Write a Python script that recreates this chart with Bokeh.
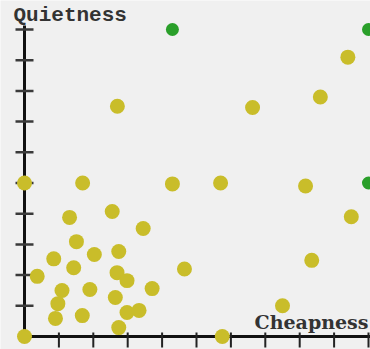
from bokeh.plotting import figure
from bokeh.models import Range1d, Label
from bokeh.embed import file_html
from bokeh.resources import INLINE

# ---- data ----
yellow_x = [0, 1.69, 2.7, 4.3, 5.7, 6.63, 8.6, 9.4, 8.17, 9.5, 8.35, 7.5, 5.75, 0, 4.65,
            1.31, 2.55, 3.45, 1.51, 0.85, 2.03, 2.74, 1.43, 0.37, 2.69, 2.98, 1.09, 1.9,
            3.71, 0.97, 2.64, 0.9, 1.68, 2.98, 3.33, 2.74]
yellow_y = [5.0, 5.0, 7.5, 4.97, 5.0, 7.46, 7.8, 9.1, 4.9, 3.9, 2.48, 1.0, 0, 0, 2.2,
            3.88, 4.07, 3.52, 3.09, 2.53, 2.67, 2.77, 2.24, 1.96, 2.08, 1.82, 1.5, 1.53,
            1.56, 1.07, 1.27, 0.59, 0.68, 0.78, 0.85, 0.29]
green_x = [4.3, 10, 10]
green_y = [10, 10, 5]
x_ticks = [1, 2, 3, 4, 5, 6, 7, 8, 9, 10]
y_ticks = [1, 2, 3, 4, 5, 6, 7, 8, 9, 10]
x_label = "Cheapness"
y_label = "Quietness"

# ---- layout ----
W, H = 370, 349
PX_X = 34.4   # pixels per x unit
PX_Y = 30.7   # pixels per y unit
BG = "#f0f0f0"

p = figure(width=W, height=H, output_backend="svg", toolbar_location=None,
           x_axis_type=None, y_axis_type=None,
           x_range=Range1d(-24 / PX_X, 10 + 2 / PX_X),
           y_range=Range1d(-13 / PX_Y, 10 + 29 / PX_Y),
           min_border=0, background_fill_color=BG, border_fill_color=BG)
p.outline_line_color = None
p.xgrid.visible = False
p.ygrid.visible = False

# axis lines
p.segment(x0=[0], y0=[0], x1=[max(x_ticks) + 2 / PX_X], y1=[0], line_color="#111", line_width=3)
p.segment(x0=[0], y0=[0], x1=[0], y1=[max(y_ticks) + 4 / PX_Y], line_color="#111", line_width=3)

# ticks
p.segment(x0=x_ticks, x1=x_ticks, y0=[4 / PX_Y] * len(x_ticks), y1=[-11 / PX_Y] * len(x_ticks),
          line_color="#222", line_width=2)
p.segment(x0=[-9 / PX_X] * len(y_ticks), x1=[9 / PX_X] * len(y_ticks), y0=y_ticks, y1=y_ticks,
          line_color="#3a3a3a", line_width=2.5)

# points
p.scatter(yellow_x, yellow_y, size=15, color="#c9bd2a", line_color=None)
p.scatter(green_x, green_y, size=13, color="#2a9f2a", line_color=None)

# axis titles
p.add_layout(Label(x=-11 / PX_X, y=10 + 14 / PX_Y, text=y_label, text_font="Liberation Mono",
                   text_font_style="bold", text_font_size="21px", text_color="#333",
                   text_baseline="alphabetic", text_align="left"))
p.add_layout(Label(x=10, y=15 / PX_Y, text=x_label, text_font="DejaVu Serif",
                   text_font_style="bold", text_font_size="19px", text_color="#333",
                   text_baseline="alphabetic", text_align="right"))

open("out.html", "w").write(file_html(p, INLINE))
